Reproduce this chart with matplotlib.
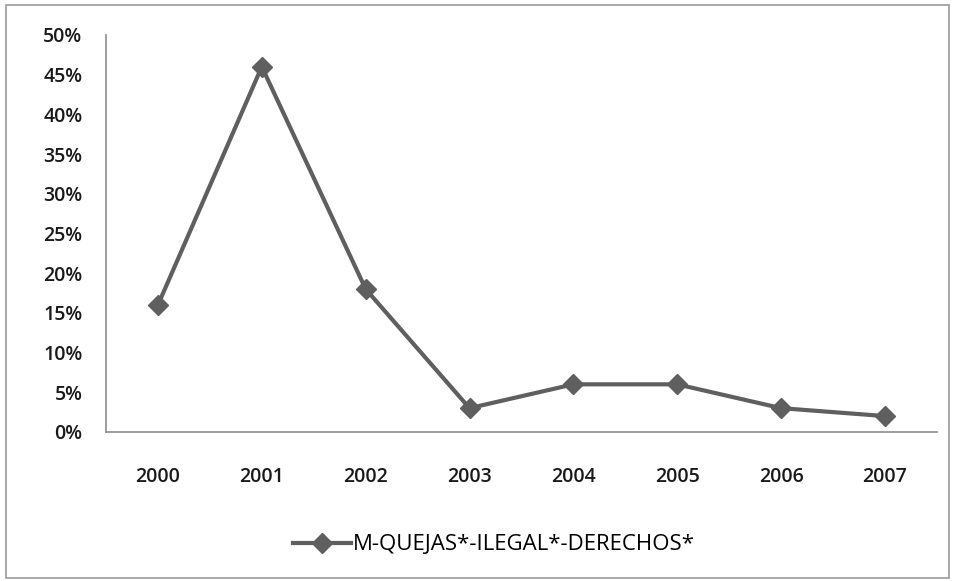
import matplotlib
matplotlib.use('Agg')
import matplotlib.pyplot as plt
from matplotlib.patches import Rectangle
from matplotlib.ticker import PercentFormatter

years = ['2000', '2001', '2002', '2003', '2004', '2005', '2006', '2007']
values = [16, 46, 18, 3, 6, 6, 3, 2]
series_name = 'M-QUEJAS*-ILEGAL*-DERECHOS*'

plt.rcParams['font.family'] = ['Open Sans', 'DejaVu Sans']

fig = plt.figure(figsize=(9.55, 5.81), dpi=100)
ax = fig.add_axes([0.111, 0.2565, 0.870, 0.6833])

x = range(len(years))
line, = ax.plot(x, values, color='#5f5f5f', linewidth=3, marker='D',
                markersize=10, markerfacecolor='#5f5f5f', markeredgecolor='#5f5f5f')

ax.set_xlim(-0.5, len(years) - 0.5)
ax.set_ylim(0, 50)
ax.set_yticks(range(0, 51, 5))
ax.yaxis.set_major_formatter(PercentFormatter(decimals=0))
ax.set_xticks(list(x))
ax.set_xticklabels(years)

for s in ['top', 'right']:
    ax.spines[s].set_visible(False)
for s in ['left', 'bottom']:
    ax.spines[s].set_color('#8c8c8c')
    ax.spines[s].set_linewidth(1.2)
ax.tick_params(axis='both', length=0, labelsize=14, colors='#1a1a1a')
ax.tick_params(axis='y', pad=17)
ax.tick_params(axis='x', pad=25)
for lbl in ax.get_xticklabels() + ax.get_yticklabels():
    lbl.set_fontweight('semibold')

fig.legend([line], [series_name], loc='center', bbox_to_anchor=(0.517, 0.062),
           frameon=False, fontsize=16, handlelength=2.6, handletextpad=0.1)

fig.patches.append(Rectangle((0.006, 0.005), 0.988, 0.987, transform=fig.transFigure,
                             fill=False, edgecolor='#9a9a9a', linewidth=1.2))

plt.savefig('out.png', dpi=100)
